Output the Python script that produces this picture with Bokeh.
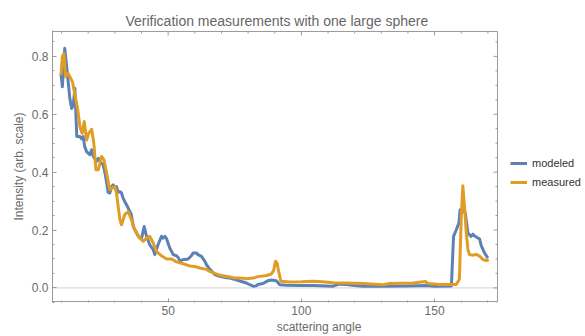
from bokeh.plotting import figure
from bokeh.models import Range1d, FixedTicker, Legend, LegendItem, CustomJSTickFormatter
from bokeh.embed import file_html
from bokeh.resources import INLINE

# ---------------- data ----------------
modeled_x = [9.8, 10.3, 11.2, 12.2, 13.1, 13.8, 14.4, 15.0, 15.7, 16.9, 17.5, 18.1, 18.7,
             19.4, 20.6, 21.3, 21.9, 23.1, 23.8, 25.0, 25.6, 26.3, 26.9, 27.5, 28.1, 28.8,
             29.4, 30.0, 30.6, 31.2, 31.9, 32.5, 33.1, 33.7, 35.0, 36.2, 36.9, 37.5, 38.8,
             40.0, 41.0, 41.9, 43.1, 44.4, 45.0, 46.2, 47.5, 48.1, 48.8, 49.4, 50.6, 51.9,
             53.1, 53.8, 54.4, 55.6, 56.2, 57.5, 58.8, 59.4, 60.6, 61.2, 62.5, 63.8, 64.4,
             65.6, 66.9, 67.5, 69.4, 71.9, 73.1, 74.4, 76.9, 79.4, 80.6, 81.9, 83.1, 83.7,
             85.6, 87.5, 88.7, 90.6, 91.9, 94.4, 99.4, 104.4, 111.9, 113.0, 114.4, 117.0,
             120.0, 123.1, 130.0, 140.0, 147.0, 150.0, 156.3, 157.1, 158.1, 159.1, 159.6,
             160.2, 161.0, 161.6, 162.5, 163.7, 164.4, 164.9, 165.8, 166.9, 167.5, 168.7,
             170.0]
modeled_y = [0.740, 0.695, 0.828, 0.740, 0.655, 0.620, 0.632, 0.690, 0.523, 0.523, 0.515,
             0.523, 0.488, 0.471, 0.460, 0.477, 0.454, 0.437, 0.448, 0.430, 0.425, 0.397,
             0.365, 0.330, 0.328, 0.350, 0.356, 0.345, 0.350, 0.330, 0.333, 0.328, 0.310,
             0.299, 0.276, 0.253, 0.212, 0.201, 0.178, 0.170, 0.212, 0.178, 0.149, 0.132,
             0.115, 0.149, 0.178, 0.172, 0.178, 0.170, 0.138, 0.115, 0.111, 0.105, 0.092,
             0.098, 0.098, 0.100, 0.112, 0.121, 0.121, 0.115, 0.109, 0.092, 0.080, 0.065,
             0.052, 0.046, 0.040, 0.035, 0.034, 0.031, 0.024, 0.017, 0.011, 0.006, 0.007,
             0.012, 0.015, 0.025, 0.027, 0.025, 0.011, 0.009, 0.008, 0.008, 0.006, 0.010,
             0.013, 0.012, 0.008, 0.006, 0.006, 0.007, 0.008, 0.006, 0.007, 0.178, 0.200,
             0.224, 0.270, 0.260, 0.280, 0.253, 0.190, 0.178, 0.186, 0.180, 0.175, 0.169,
             0.146, 0.121, 0.103]

measured_x = [9.8, 10.3, 10.9, 11.5, 12.5, 13.1, 14.1, 15.0, 16.0, 16.9, 17.7, 18.5, 19.4,
              20.2, 21.3, 22.1, 22.9, 23.8, 25.0, 25.9, 26.9, 27.7, 28.1, 28.8, 30.0, 30.6,
              31.9, 32.5, 33.7, 35.0, 36.2, 37.5, 39.4, 40.6, 41.9, 43.1, 44.4, 45.6, 47.5,
              49.4, 51.3, 53.1, 55.0, 58.1, 60.0, 61.9, 64.4, 65.6, 66.9, 69.4, 73.1, 74.4,
              78.1, 79.4, 81.9, 83.7, 86.9, 88.7, 89.6, 90.3, 90.9, 91.4, 92.3, 95.6, 100.0,
              104.4, 108.0, 111.9, 116.9, 123.1, 130.6, 133.1, 141.9, 146.5, 147.5, 151.9,
              158.1, 159.3, 160.0, 160.6, 161.2, 161.9, 162.5, 163.1, 164.4, 165.6, 166.9,
              168.1, 169.4, 170.3]
measured_y = [0.735, 0.800, 0.810, 0.730, 0.741, 0.730, 0.712, 0.667, 0.621, 0.557, 0.534,
              0.575, 0.511, 0.534, 0.548, 0.500, 0.408, 0.408, 0.454, 0.443, 0.397, 0.356,
              0.340, 0.345, 0.350, 0.328, 0.236, 0.218, 0.253, 0.264, 0.236, 0.201, 0.172,
              0.161, 0.172, 0.178, 0.155, 0.126, 0.111, 0.100, 0.100, 0.090, 0.085, 0.076,
              0.074, 0.069, 0.064, 0.057, 0.052, 0.044, 0.038, 0.035, 0.033, 0.032, 0.034,
              0.039, 0.043, 0.048, 0.060, 0.092, 0.085, 0.060, 0.023, 0.020, 0.021, 0.023,
              0.021, 0.018, 0.017, 0.015, 0.011, 0.015, 0.017, 0.022, 0.015, 0.012, 0.012,
              0.030, 0.247, 0.353, 0.280, 0.190, 0.132, 0.115, 0.113, 0.116, 0.110, 0.098,
              0.094, 0.098]

x_major = [50, 100, 150]
x_minor = [10, 20, 30, 40, 60, 70, 80, 90, 110, 120, 130, 140, 160, 170]
y_major = [0.0, 0.2, 0.4, 0.6, 0.8]
y_minor = [-0.05, 0.05, 0.1, 0.15, 0.25, 0.3, 0.35, 0.45, 0.5, 0.55, 0.65, 0.7, 0.75, 0.85]

title_text = "Verification measurements with one large sphere"
x_label = "scattering angle"
y_label = "Intensity (arb. scale)"
series_names = ["modeled", "measured"]
colors = ["#5E81B5", "#E19C24"]

FONT = "Liberation Sans"
FRAME = "#9b9b9b"
TXT = "#6b6b6b"

# visible plot box (data limits of the framed area)
X0, X1 = 6.6, 173.6
Y0, Y1 = -0.047, 0.886
W, H = 585, 336
BL, BT, BB = 52, 30, 33
BOX_W = 445            # pixel width of the framed area (legend sits to its right)
BOX_H = H - BT - BB - 2

px_x = (X1 - X0) / BOX_W
px_y = (Y1 - Y0) / BOX_H
XR = X0 + (W - BL) * px_x          # canvas extends to the right edge for the legend

p = figure(width=W, height=H, output_backend="svg", toolbar_location=None,
           x_range=Range1d(X0, XR), y_range=Range1d(Y0 - px_y, Y1 + px_y))
p.min_border_left = BL
p.min_border_right = 0
p.min_border_top = BT
p.min_border_bottom = BB
p.outline_line_color = None
p.background_fill_color = "white"
p.border_fill_color = "white"

p.title.text = title_text
p.title.align = "left"
p.title.offset = 73
p.title.text_font = FONT
p.title.text_font_size = "14px"
p.title.text_font_style = "normal"
p.title.text_color = "#666666"
p.title.standoff = 4

p.xgrid.visible = False
p.ygrid.visible = False


def style_axis(ax, ticker):
    ax.ticker = ticker
    ax.axis_line_color = FRAME
    ax.axis_line_width = 1
    ax.major_tick_line_color = FRAME
    ax.minor_tick_line_color = FRAME
    ax.major_tick_in = 4
    ax.major_tick_out = 0
    ax.minor_tick_in = 2
    ax.minor_tick_out = 0
    ax.major_label_text_font = FONT
    ax.major_label_text_color = TXT
    ax.major_label_text_font_size = "12px"
    ax.major_label_standoff = 4
    ax.axis_label_text_font = FONT
    ax.axis_label_text_font_size = "12px"
    ax.axis_label_text_font_style = "normal"
    ax.axis_label_text_color = TXT


style_axis(p.xaxis[0], FixedTicker(ticks=x_major, minor_ticks=x_minor))
p.xaxis[0].axis_line_color = None
p.xaxis[0].axis_label = x_label
p.xaxis[0].axis_label_standoff = 2
p.xaxis[0].major_label_standoff = 3

style_axis(p.yaxis[0], FixedTicker(ticks=y_major, minor_ticks=y_minor))
p.yaxis[0].formatter = CustomJSTickFormatter(code="return tick.toFixed(1);")
p.yaxis[0].axis_label = y_label
p.yaxis[0].axis_label_standoff = 3

# zero reference line
p.segment(x0=[X0], y0=[0.0], x1=[X1], y1=[0.0], line_color="#dcdcdc", line_width=1.2)

# frame edges (bottom, top, right) and mirrored inward ticks on top/right
p.segment(x0=[X0, X0, X1], y0=[Y0, Y1, Y0], x1=[X1, X1, X1], y1=[Y0, Y1, Y1],
          line_color=FRAME, line_width=1)
for ticks, ln in ((x_major, 4), (x_minor, 2)):
    p.segment(x0=ticks, y0=[Y1] * len(ticks), x1=ticks, y1=[Y1 - ln * px_y] * len(ticks),
              line_color=FRAME, line_width=1)
for ticks, ln in ((y_major, 4), (y_minor, 2)):
    p.segment(x0=[X1] * len(ticks), y0=ticks, x1=[X1 - ln * px_x] * len(ticks), y1=ticks,
              line_color=FRAME, line_width=1)

r1 = p.line(modeled_x, modeled_y, line_color=colors[0], line_width=3, line_join="round")
r2 = p.line(measured_x, measured_y, line_color=colors[1], line_width=3, line_join="round")

legend = Legend(items=[LegendItem(label=series_names[0], renderers=[r1]),
                       LegendItem(label=series_names[1], renderers=[r2])],
                location=(458, 113), padding=0, margin=0, spacing=5,
                glyph_width=17, glyph_height=14, label_height=14, label_standoff=5,
                label_text_font=FONT, label_text_font_size="11px", label_text_color="#333333",
                border_line_color=None, background_fill_alpha=0)
p.add_layout(legend, "center")

open("out.html", "w").write(file_html(p, INLINE))
